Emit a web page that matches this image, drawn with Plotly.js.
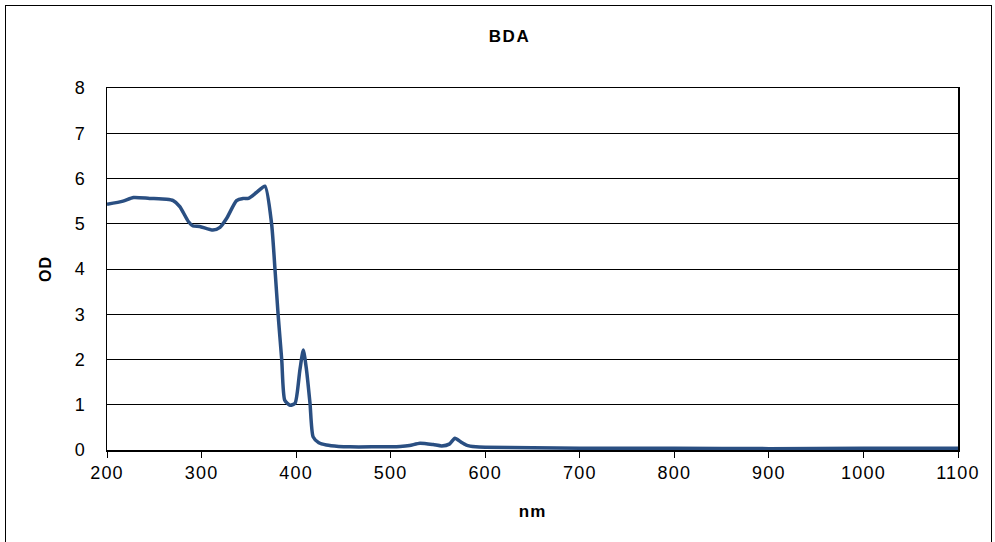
<!DOCTYPE html>
<html>
<head>
<meta charset="utf-8">
<script src="https://cdn.plot.ly/plotly-3.0.1.min.js"></script>
<style>
html,body{margin:0;padding:0;background:#fff;}
#wrap{position:relative;width:995px;height:542px;overflow:hidden;}
#chart{width:995px;height:542px;}
#frame{position:absolute;left:5px;top:5px;width:987px;height:600px;border:1.5px solid #000;pointer-events:none;box-sizing:border-box;}
.xtick text, .ytick text{letter-spacing:1.2px;}
.gtitle{letter-spacing:1.5px;}
.xtitle{letter-spacing:1px;}
.ytitle{letter-spacing:1px;}
</style>
</head>
<body>
<div id="wrap"><div id="chart"></div><div id="frame"></div></div>
<script>
const wavelength = [200, 217, 228, 245, 263, 270, 277, 286, 291, 298, 312, 319.5, 326.6, 337, 344, 349.4, 358, 367, 374, 377.7, 381, 384.8, 388, 393.5, 398.8, 404, 407.6, 411, 414.7, 418, 424, 432, 445, 457, 480, 510, 520, 531, 545, 554, 562, 568, 574, 580, 590, 600, 650, 700, 800, 900, 1000, 1100];
const od = [5.43, 5.50, 5.58, 5.56, 5.54, 5.51, 5.38, 5.05, 4.95, 4.94, 4.86, 4.92, 5.12, 5.51, 5.56, 5.56, 5.69, 5.83, 5.01, 3.98, 2.98, 1.99, 1.10, 0.99, 1.03, 1.77, 2.21, 1.77, 1.03, 0.29, 0.16, 0.11, 0.08, 0.07, 0.07, 0.08, 0.10, 0.15, 0.12, 0.09, 0.13, 0.26, 0.18, 0.11, 0.07, 0.06, 0.05, 0.04, 0.04, 0.03, 0.04, 0.04];
const xTicks = [200, 300, 400, 500, 600, 700, 800, 900, 1000, 1100];
const yTicks = [0, 1, 2, 3, 4, 5, 6, 7, 8];

const trace = {
  x: wavelength, y: od, type: 'scatter', mode: 'lines',
  line: {color: '#2a4f82', width: 3.5, shape: 'spline', smoothing: 0.6},
  hoverinfo: 'x+y'
};
const font = {family: 'Liberation Sans, Arial, sans-serif', color: '#000'};
const layout = {
  width: 995, height: 542,
  margin: {l: 107, r: 37, t: 88, b: 92},
  paper_bgcolor: '#fff', plot_bgcolor: '#fff',
  showlegend: false,
  title: {text: '<b>BDA</b>', x: 0.473, xref: 'paper', xanchor: 'center', y: 0.934, yanchor: 'middle', font: Object.assign({}, font, {size: 17})},
  xaxis: {
    range: [200, 1100], tickvals: xTicks, ticktext: xTicks.map(String),
    showgrid: false, zeroline: false, showline: true, linecolor: '#000', linewidth: 1.5, mirror: true,
    ticks: 'outside', ticklen: 6, tickcolor: '#000', tickwidth: 1,
    tickfont: Object.assign({}, font, {size: 18}),
    title: {text: '<b>nm</b>', font: Object.assign({}, font, {size: 17}), standoff: 23}
  },
  yaxis: {
    range: [0, 8], tickvals: yTicks, ticktext: yTicks.map(String),
    showgrid: true, gridcolor: '#000', gridwidth: 1, zeroline: false,
    showline: true, linecolor: '#000', linewidth: 1.5, mirror: true,
    ticks: 'outside', ticklen: 16, tickcolor: 'rgba(0,0,0,0)', tickwidth: 1,
    tickfont: Object.assign({}, font, {size: 18}),
    title: {text: '<b>OD</b>', font: Object.assign({}, font, {size: 16}), standoff: 19}
  }
};
Plotly.newPlot('chart', [trace], layout, {displayModeBar: false, staticPlot: true});
</script>
</body>
</html>
